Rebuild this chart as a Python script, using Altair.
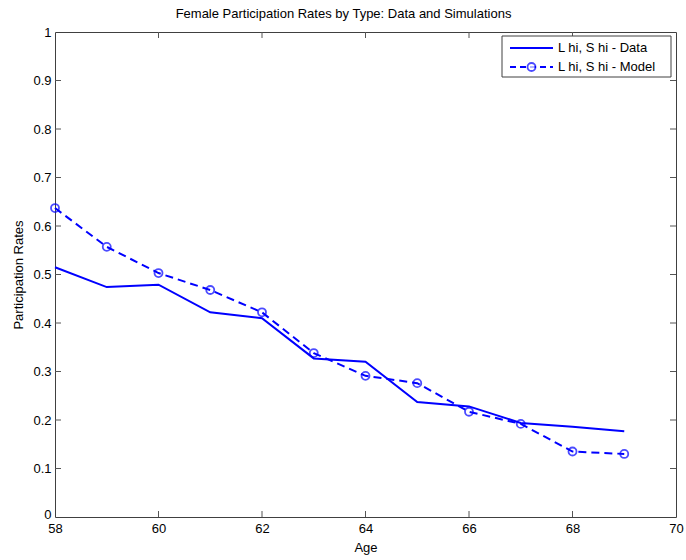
import altair as alt
import pandas as pd

ages = [58, 59, 60, 61, 62, 63, 64, 65, 66, 67, 68, 69]
data_rates = [0.515, 0.474, 0.479, 0.422, 0.410, 0.327, 0.320, 0.237, 0.228, 0.194, 0.186, 0.177]
model_rates = [0.637, 0.557, 0.503, 0.468, 0.422, 0.338, 0.291, 0.276, 0.217, 0.192, 0.135, 0.130]
x_ticks = [58, 60, 62, 64, 66, 68, 70]
y_ticks = [0, 0.1, 0.2, 0.3, 0.4, 0.5, 0.6, 0.7, 0.8, 0.9, 1]
inner_x_ticks = [60, 62, 64, 66, 68]
inner_y_ticks = [0.1, 0.2, 0.3, 0.4, 0.5, 0.6, 0.7, 0.8, 0.9]
legend_labels = ["L hi, S hi - Data", "L hi, S hi - Model"]
title_text = "Female Participation Rates by Type: Data and Simulations"

W, H = 621, 485
FONT = "Liberation Sans"
BLUE = "#0000ff"
BOX = "#404040"
TICK = "#555555"

df = pd.DataFrame({"age": ages, "data": data_rates, "model": model_rates})
xt = pd.DataFrame({"t": inner_x_ticks})
yt = pd.DataFrame({"v": inner_y_ticks})
one = pd.DataFrame({"k": [0]})

xs = alt.Scale(domain=[58, 70], nice=False, zero=False)
ys = alt.Scale(domain=[0, 1], nice=False)

common_axis = dict(ticks=False, domain=False, grid=False, labelFontSize=13, titleFontSize=13,
                   labelColor="black", titleColor="black", titleFontWeight="normal",
                   labelFont=FONT, titleFont=FONT)

xax = alt.Axis(values=x_ticks, title="Age", format="d", labelFlush=False, labelPadding=5,
               titlePadding=6, **common_axis)
yax = alt.Axis(values=y_ticks, title="Participation Rates", format="~g", labelPadding=4,
               titlePadding=7, labelFlush=False,
               labelOffset={"condition": {"test": "datum.value === 0", "value": -3}, "value": 0},
               **common_axis)

base = alt.Chart(df)
data_line = base.mark_line(color=BLUE, strokeWidth=2).encode(
    x=alt.X("age:Q", scale=xs, axis=xax),
    y=alt.Y("data:Q", scale=ys, axis=yax),
)
model_line = base.mark_line(color=BLUE, strokeWidth=2, strokeDash=[8, 5]).encode(
    x=alt.X("age:Q", scale=xs, axis=xax),
    y=alt.Y("model:Q", scale=ys, axis=yax),
)
model_pts = base.mark_point(shape="circle", filled=False, size=64, strokeWidth=1.8, color=BLUE).encode(
    x=alt.X("age:Q", scale=xs, axis=xax),
    y=alt.Y("model:Q", scale=ys, axis=yax),
)

tb = alt.Chart(xt).mark_rule(color=TICK, strokeWidth=1).encode(
    x=alt.X("t:Q", scale=xs, axis=xax), y=alt.value(H), y2=alt.value(H - 6))
tt = alt.Chart(xt).mark_rule(color=TICK, strokeWidth=1).encode(
    x=alt.X("t:Q", scale=xs, axis=xax), y=alt.value(0), y2=alt.value(6))
tl = alt.Chart(yt).mark_rule(color=TICK, strokeWidth=1).encode(
    y=alt.Y("v:Q", scale=ys, axis=yax), x=alt.value(0), x2=alt.value(6))
tr = alt.Chart(yt).mark_rule(color=TICK, strokeWidth=1).encode(
    y=alt.Y("v:Q", scale=ys, axis=yax), x=alt.value(W), x2=alt.value(W - 6))

leg_box = alt.Chart(one).mark_rect(fill="white", stroke=BOX, strokeWidth=1).encode(
    x=alt.value(447), x2=alt.value(616), y=alt.value(4), y2=alt.value(45))
leg_l1 = alt.Chart(one).mark_rule(color=BLUE, strokeWidth=2).encode(
    x=alt.value(455), x2=alt.value(498), y=alt.value(16))
leg_l2 = alt.Chart(one).mark_rule(color=BLUE, strokeWidth=2, strokeDash=[6, 4]).encode(
    x=alt.value(455), x2=alt.value(498), y=alt.value(35))
leg_p2 = alt.Chart(one).mark_point(shape="circle", filled=False, size=64, strokeWidth=1.8,
                                   color=BLUE, fill="white").encode(
    x=alt.value(476.5), y=alt.value(35))
leg_t1 = alt.Chart(one).mark_text(align="left", baseline="middle", fontSize=13, font=FONT,
                                  color="black").encode(
    x=alt.value(503), y=alt.value(16), text=alt.value(legend_labels[0]))
leg_t2 = alt.Chart(one).mark_text(align="left", baseline="middle", fontSize=13, font=FONT,
                                  color="black").encode(
    x=alt.value(503), y=alt.value(35), text=alt.value(legend_labels[1]))

chart = alt.layer(
    data_line, model_line, model_pts, tb, tt, tl, tr,
    leg_box, leg_l1, leg_l2, leg_p2, leg_t1, leg_t2,
).properties(
    width=W, height=H,
    title=alt.TitleParams(title_text, fontSize=13, fontWeight="normal", font=FONT,
                          color="black", anchor="middle", offset=5, dx=-22),
    autosize=alt.AutoSizeParams(type="none"),
    padding={"left": 55, "top": 32, "right": 10, "bottom": 43},
    background="white",
).configure_view(stroke=BOX, strokeWidth=1)

chart.save("out.html", embed_options={"renderer": "svg", "actions": False})
